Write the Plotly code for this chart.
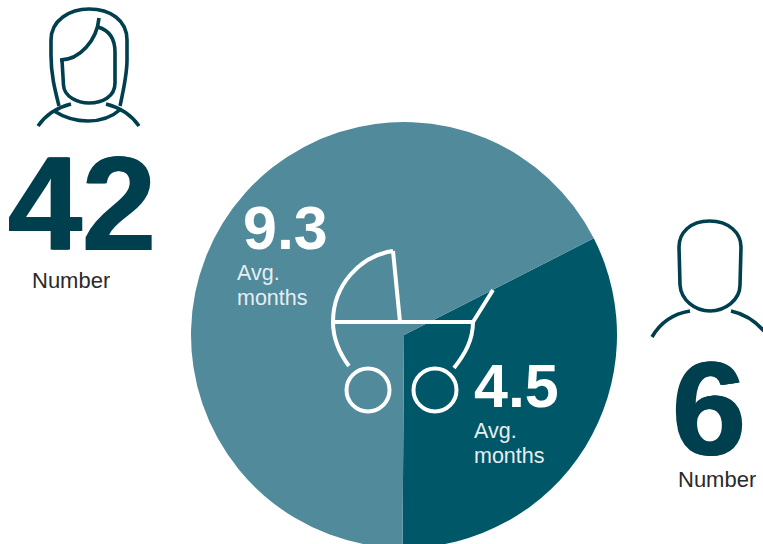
import plotly.graph_objects as go

# Average months per group, with headcounts
months = [4.5, 9.3]
month_labels = ["4.5", "9.3"]
slice_colors = ["#005767", "#508a9b"]
count_women = "42"
count_men = "6"
count_caption = "Number"
month_caption = ["Avg.", "months"]

W, H = 763, 560
INK = "#003f4e"


def px(x):
    return x / W


def py(y):
    return 1 - y / H


def path(d):
    """Turn an 'M x,y C ...' string in canvas units into paper coordinates."""
    out, is_x = [], True
    token = ""
    for ch in d + " ":
        if ch.isdigit() or ch == ".":
            token += ch
        else:
            if token:
                v = float(token)
                out.append(f"{px(v) if is_x else py(v):.5f}")
                out.append("," if is_x else " ")
                is_x = not is_x
                token = ""
            if ch.isalpha():
                out.append(ch)
    return "".join(out).strip()


def stroke(d, color, width):
    return dict(type="path", xref="paper", yref="paper", path=path(d),
                line=dict(color=color, width=width), fillcolor="rgba(0,0,0,0)",
                layer="above")


def ring(cx, cy, r, color, width):
    return dict(type="circle", xref="paper", yref="paper",
                x0=px(cx - r), x1=px(cx + r), y0=py(cy + r), y1=py(cy - r),
                line=dict(color=color, width=width), fillcolor="rgba(0,0,0,0)",
                layer="above")


def label(x, y, text, size, color, bold=False, box=None, shadow=None):
    font = dict(family="Liberation Sans", size=size, color=color,
                weight=700 if bold else 400)
    if shadow:
        font["shadow"] = shadow
    ann = dict(xref="paper", yref="paper", x=px(x), y=py(y), text=text,
               showarrow=False, xanchor="left", yanchor="middle", align="left",
               font=font, borderpad=0, borderwidth=0)
    if box:
        ann["height"] = box
    return ann


woman = [
    "M59,106 C55,90 51,75 51,55 L51,40 C51,20 70,9 89,9 C110,9 127,20 127,40 L127,60 C127,75 123,92 120,106",
    "M99,18 C97,40 80,60 60,60",
    "M62,60 L63.5,85 C64,97 78,103 89,103 C102,103 115,97 115,83 L115,52 C115,38 108,30 98,27",
    "M38,126 C45,116 55,108 71,104",
    "M106,104 C122,108 132,116 139,126",
    "M54,111 C65,118 77,121 88,121 C100,121 112,117 121,109",
]
man = [
    "M709.5,221 C690,221 679,233 679,247 L680,285 C681,300 695,311 710,311 C725,311 740,300 740,285 L741,247 C741,233 729,221 709.5,221",
    "M652,337 C660,323 672,314 690,311",
    "M731,311 C745,314 755,321 764,331",
]
pram = [
    "M393,251 C360,256 333,285 333,322 C333,340 340,354 349,366",
    "M393,251 L400,322",
    "M333,322 L473,322",
    "M473,322 L493,290",
    "M473,322 C473,340 465,354 454,368",
]

shapes = [stroke(d, INK, 3.6) for d in woman + man]
shapes += [stroke(d, "white", 4) for d in pram]
shapes += [ring(368, 390, 21.5, "white", 4), ring(435, 390, 21.5, "white", 4)]

# Heavier outline on the large headcounts
thick = f"1px 0 0 {INK}, -1px 0 0 {INK}"

annotations = [
    label(8, 204, count_women, 133, INK, bold=True, box=104, shadow=thick),
    label(32, 280, count_caption, 22, "#2a2a2a", box=24),
    label(672, 409, count_men, 133, INK, bold=True, box=104, shadow=thick),
    label(678, 479, count_caption, 22, "#2a2a2a", box=24),
    label(243, 228, month_labels[1], 61, "white", bold=True, box=48),
    label(237, 273, month_caption[0], 21.5, "#e6eef1", box=24),
    label(237, 298, month_caption[1], 21.5, "#e6eef1", box=24),
    label(474, 386, month_labels[0], 61, "white", bold=True, box=48),
    label(474, 431, month_caption[0], 21.5, "#e6eef1", box=24),
    label(474, 456, month_caption[1], 21.5, "#e6eef1", box=24),
]

fig = go.Figure(go.Pie(
    values=months,
    sort=False,
    direction="clockwise",
    rotation=63,
    marker=dict(colors=slice_colors, line=dict(width=0)),
    textinfo="none",
    hoverinfo="skip",
    showlegend=False,
    domain=dict(x=[px(191), px(617)], y=[py(548), py(122)]),
))

fig.update_layout(
    width=W, height=H, autosize=False,
    margin=dict(l=0, r=0, t=0, b=0),
    paper_bgcolor="white",
    shapes=shapes,
    annotations=annotations,
)

fig.write_html("out.html", config=dict(displayModeBar=False),
               post_script="document.documentElement.style.overflow='hidden';document.body.style.overflow='hidden';")
